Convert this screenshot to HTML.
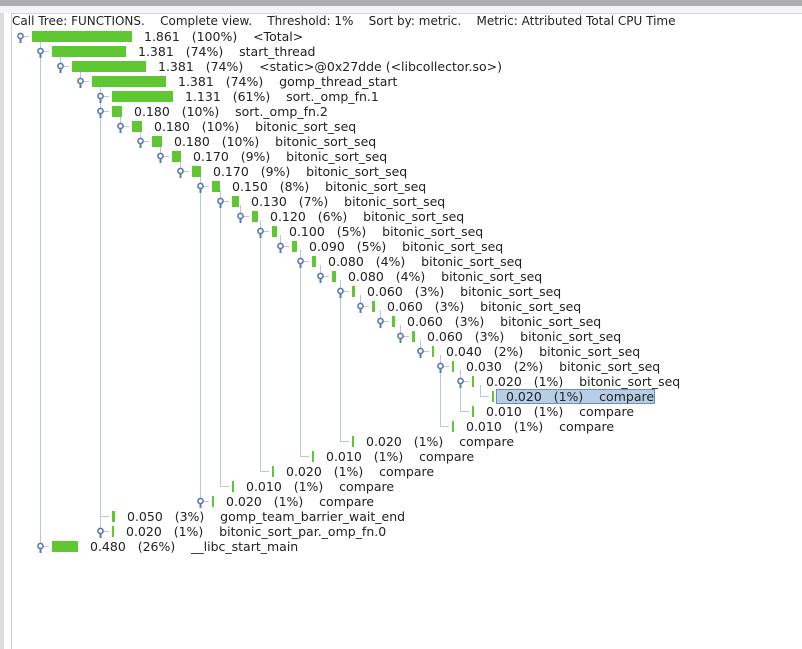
<!DOCTYPE html>
<html><head><meta charset="utf-8"><style>
body{margin:0;width:802px;height:649px;overflow:hidden;background:#fff;font-family:"DejaVu Sans","Liberation Sans",sans-serif;}
svg{position:absolute;left:0;top:0}
text{font-family:"DejaVu Sans","Liberation Sans",sans-serif;font-size:12.5px;fill:#222;white-space:pre}
</style></head><body>
<svg id="s" width="802" height="649">
<rect x="0" y="0" width="802" height="6" fill="#adadad"/>
<rect x="0" y="6" width="802" height="7" fill="#f4f4f6"/>
<rect x="0" y="13" width="4" height="636" fill="#dcdce0"/>
<line x1="11.5" y1="13" x2="11.5" y2="649" stroke="#cfcfd4"/>
<line x1="11" y1="13.5" x2="802" y2="13.5" stroke="#d4d4d8"/>
<text x="12" y="25" style="font-size:12px">Call Tree: FUNCTIONS.    Complete view.    Threshold: 1%    Sort by: metric.    Metric: Attributed Total CPU Time</text>
<g id="g"></g>
</svg>
<script>
const depths=[0,1,2,3,4,4,5,6,7,8,9,10,11,12,13,14,15,16,17,18,19,20,21,22,23,22,21,16,14,12,10,9,4,4,1];
const values=[1.861,1.381,1.381,1.381,1.131,0.180,0.180,0.180,0.170,0.170,0.150,0.130,0.120,0.100,0.090,0.080,0.080,0.060,0.060,0.060,0.060,0.040,0.030,0.020,0.020,0.010,0.010,0.020,0.010,0.020,0.010,0.020,0.050,0.020,0.480];
const pcts=[100,74,74,74,61,10,10,10,9,9,8,7,6,5,5,4,4,3,3,3,3,2,2,1,1,1,1,1,1,1,1,1,3,1,26];
const names=["<Total>","start_thread","<static>@0x27dde (<libcollector.so>)","gomp_thread_start","sort._omp_fn.1","sort._omp_fn.2"];
for(let i=0;i<18;i++)names.push("bitonic_sort_seq");
names.push("compare","compare","compare","compare","compare","compare","compare","compare","gomp_team_barrier_wait_end","bitonic_sort_par._omp_fn.0","__libc_start_main");
const expanded=[1,1,1,1,1,1,1,1,1,1,1,1,1,1,1,1,1,1,1,1,1,1,1,1,0,0,0,0,0,0,0,1,0,1,1];
const NS="http://www.w3.org/2000/svg";
const g=document.getElementById('g');
function el(t,a){const e=document.createElementNS(NS,t);for(const k in a)e.setAttribute(k,a[k]);g.appendChild(e);return e;}
const n=depths.length;
const X=d=>20+20*d, Y=i=>36+15*i;
const lastChild={};
for(let i=0;i<n;i++){
  for(let j=i-1;j>=0;j--){ if(depths[j]<depths[i]){ lastChild[j]=i; break; } }
}
for(const j in lastChild){
  const i=lastChild[j];const x=X(depths[j])+20+0.5;
  const l=el('line',{x1:x,y1:Y(+j)+4,x2:x,y2:Y(i),stroke:'#b8c8dc'});
  
  
}
for(let i=0;i<n;i++){
  const x=X(depths[i]),y=Y(i);
  const bx=x+12;
  const w=Math.max(2,Math.round(values[i]/values[0]*100));
  if(expanded[i]){
    const h=el('line',{x1:x+3,y1:y+0.5,x2:x+9,y2:y+0.5,stroke:'#b8c8dc'});
    
    
    const st=el('line',{x1:x+0.5,y1:y,x2:x+0.5,y2:y+7,stroke:'#5a78b4','stroke-width':2});
    
    
    const c=el('circle',{cx:x+0.5,cy:y,r:2.6,fill:'#fff',stroke:'#5a78b4','stroke-width':1.6});
    
    
  }else{
    const h=el('line',{x1:x,y1:y+0.5,x2:x+9,y2:y+0.5,stroke:'#b8c8dc'});
    
    
  }
  const tx=bx+w+12;
  if(i===24){
    const r=el('rect',{x:bx+4.5,y:y-6.5,width:158,height:14,fill:'#b8cee6',stroke:'#6f8cbc'});
    
    
  }
  const b=el('rect',{x:bx,y:y-5,width:w,height:11,fill:'#5ec732'});
  
  
  const t=el('text',{x:tx,y:y+5});
  
  
  t.textContent=values[i].toFixed(3)+'   ('+pcts[i]+'%)    '+names[i];
}
</script>
</body></html>
